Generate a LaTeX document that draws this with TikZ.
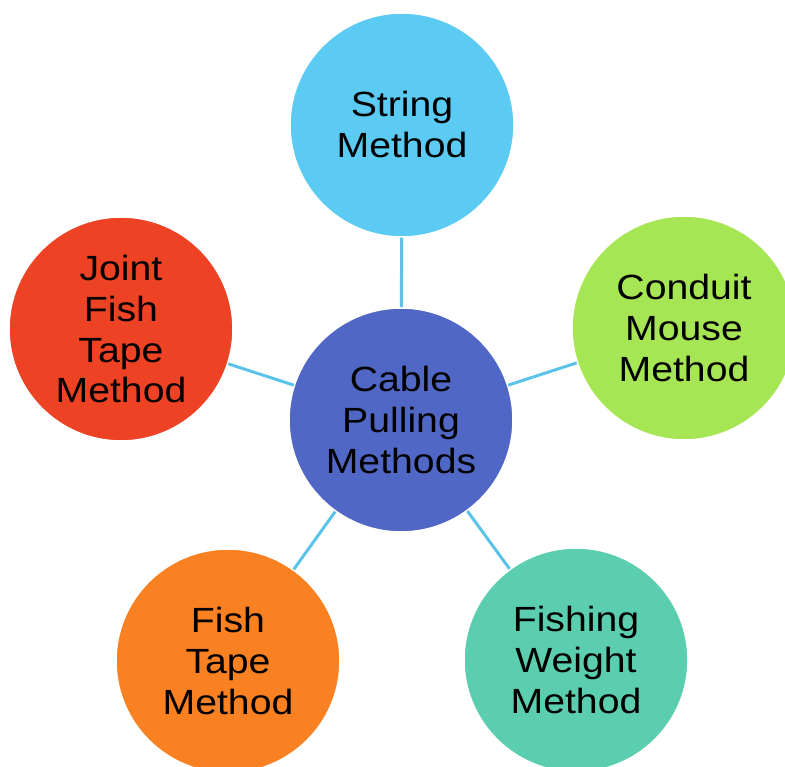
\documentclass[tikz,border=0pt]{standalone}
\usepackage{fontspec}
\setmainfont[FakeStretch=1.12]{Liberation Sans}
\usepackage{tikz}
\definecolor{blau}{HTML}{5067C6}
\definecolor{hblau}{HTML}{5BCBF3}
\definecolor{gruen}{HTML}{A6E655}
\definecolor{rot}{HTML}{EE4224}
\definecolor{orng}{HTML}{F98122}
\definecolor{tuerkis}{HTML}{5CCEB0}
\definecolor{linie}{HTML}{5BC2E8}
\tikzset{
  kreis/.style={circle,minimum size=224pt,inner sep=0pt,draw=white,line width=1.5pt,
    align=center,font=\fontsize{35}{41}\selectfont},
  verb/.style={linie,line width=3pt},
}

\begin{document}
\begin{tikzpicture}[x=1pt,y=1pt]
  \useasboundingbox (0,0) rectangle (785,767);
  \node[kreis,fill=blau] (mitte) at (401,347) {Cable\\Pulling\\Methods};
  \node[kreis,fill=hblau] (string) at (402,642) {String\\Method};
  \node[kreis,fill=gruen] (conduit) at (684,439) {Conduit\\Mouse\\Method};
  \node[kreis,fill=rot] (joint) at (121,438) {Joint\\Fish\\Tape\\Method};
  \node[kreis,fill=orng] (tape) at (228,106) {Fish\\Tape\\Method};
  \node[kreis,fill=tuerkis] (weight) at (576,107) {Fishing\\Weight\\Method};
  \draw[verb] (mitte)--(string);
  \draw[verb] (mitte)--(conduit);
  \draw[verb] (mitte)--(joint);
  \draw[verb] (mitte)--(tape);
  \draw[verb] (mitte)--(weight);
\end{tikzpicture}
\end{document}
